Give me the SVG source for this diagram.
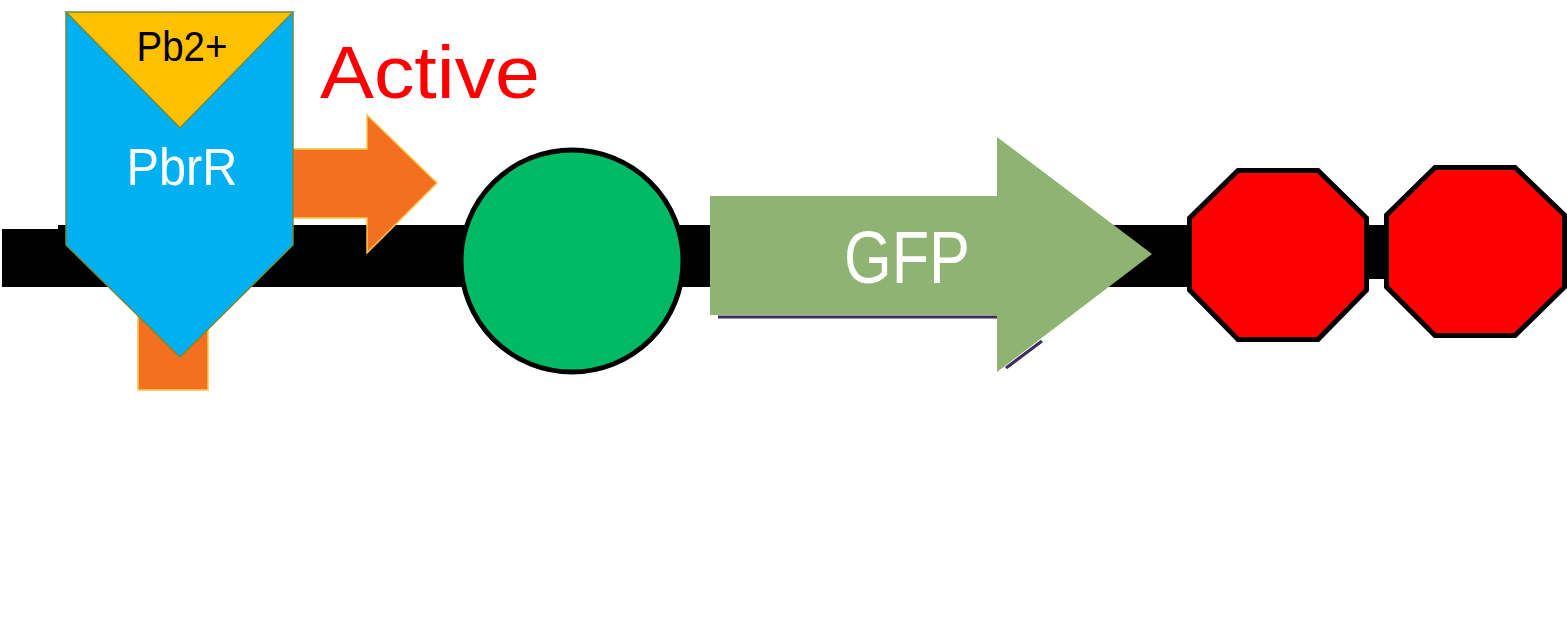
<svg xmlns="http://www.w3.org/2000/svg" width="1567" height="627" viewBox="0 0 1567 627">
  <style>
    .lbl { font-family: "Liberation Sans", "DejaVu Sans", sans-serif; }
    .outline { stroke: #6E8B3D; stroke-width: 1.5; }
    .term { fill: #FF0000; stroke: #000; stroke-width: 5; stroke-linejoin: miter; }
    .shadow { stroke: #3D2D5C; stroke-width: 3; fill: none; }
  </style>
  <rect width="1567" height="627" fill="#FFFFFF"/>
  <g id="connectors">
    <rect x="2" y="229" width="60" height="58" fill="#000"/>
    <rect x="58" y="225" width="1132" height="62" fill="#000"/>
    <rect x="1366" y="225" width="22" height="54" fill="#000"/>
  </g>
  <g id="promoter">
    <path d="M138,390 L138,149 L367,149 L367,115 L437,183 L367,253 L367,218 L208,218 L208,390 Z" fill="#F37021" stroke="#F8C64A" stroke-width="1.5"/>
  </g>
  <g id="PbrR">
    <path d="M66,13 L293,13 L293,245 L180,357 L66,245 Z" fill="#00B0F0" class="outline"/>
    <text x="182" y="185" class="lbl" font-size="51" fill="#FFFFFF" text-anchor="middle" textLength="111" lengthAdjust="spacingAndGlyphs">PbrR</text>
  </g>
  <g id="Pb2">
    <path d="M66,12 L293,12 L180,128 Z" fill="#FFC000" class="outline"/>
    <text x="182" y="61" class="lbl" font-size="43" fill="#000000" text-anchor="middle" textLength="91" lengthAdjust="spacingAndGlyphs">Pb2+</text>
  </g>
  <g id="active-label">
    <text x="320" y="98" class="lbl" font-size="74" fill="#FF0000" textLength="220" lengthAdjust="spacingAndGlyphs">Active</text>
  </g>
  <g id="RBS">
    <circle cx="572" cy="261" r="111" fill="#00B964" stroke="#000" stroke-width="5"/>
  </g>
  <g id="GFP">
    <path class="shadow" d="M718,317 L997,317 M1006,368 L1042,341"/>
    <path d="M710,196 L997,196 L997,137 L1152,254 L997,372 L997,315 L710,315 Z" fill="#8EB373"/>
    <text x="907" y="283" class="lbl" font-size="74" fill="#FFFFFF" text-anchor="middle" textLength="126" lengthAdjust="spacingAndGlyphs">GFP</text>
  </g>
  <g id="terminator1">
    <polygon class="term" points="1238,170.5 1318,170.5 1366.5,218 1366.5,290 1318,339.5 1238,339.5 1189.5,290 1189.5,218"/>
  </g>
  <g id="terminator2">
    <polygon class="term" points="1435,167.5 1515,167.5 1564.5,215 1564.5,287 1515,335.5 1435,335.5 1386.5,287 1386.5,215"/>
  </g>
</svg>
